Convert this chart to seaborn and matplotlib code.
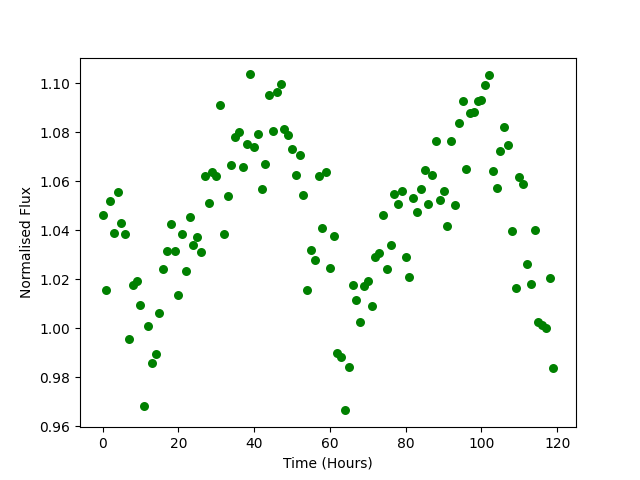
import numpy as np
import matplotlib
matplotlib.use("Agg")
import matplotlib.pyplot as plt
import seaborn as sns

# Time in hours, one reading per hour
hours = np.arange(120)

# Normalised flux
flux = [
    1.0464, 1.0155, 1.0521, 1.0390, 1.0558, 1.0429, 1.0384, 0.9958, 1.0178, 1.0192,
    1.0097, 0.9684, 1.0011, 0.9860, 0.9897, 1.0064, 1.0240, 1.0317, 1.0427, 1.0317,
    1.0134, 1.0386, 1.0233, 1.0456, 1.0339, 1.0374, 1.0313, 1.0623, 1.0513, 1.0636,
    1.0623, 1.0913, 1.0384, 1.0538, 1.0668, 1.0782, 1.0799, 1.0660, 1.0750, 1.1036,
    1.0738, 1.0792, 1.0567, 1.0672, 1.0951, 1.0807, 1.0965, 1.0995, 1.0815, 1.0787,
    1.0733, 1.0627, 1.0709, 1.0542, 1.0155, 1.0321, 1.0280, 1.0623, 1.0411, 1.0636,
    1.0248, 1.0378, 0.9901, 0.9884, 0.9665, 0.9844, 1.0178, 1.0117, 1.0027, 1.0173,
    1.0192, 1.0091, 1.0289, 1.0309, 1.0464, 1.0242, 1.0338, 1.0546, 1.0509, 1.0562,
    1.0289, 1.0210, 1.0533, 1.0475, 1.0570, 1.0644, 1.0509, 1.0627, 1.0766, 1.0525,
    1.0562, 1.0419, 1.0766, 1.0505, 1.0836, 1.0928, 1.0652, 1.0879, 1.0883, 1.0928,
    1.0931, 1.0991, 1.1033, 1.0640, 1.0574, 1.0725, 1.0823, 1.0746, 1.0399, 1.0166,
    1.0619, 1.0587, 1.0264, 1.0182, 1.0403, 1.0027, 1.0015, 1.0003, 1.0207, 0.9840,
]

fig, ax = plt.subplots(figsize=(6.4, 4.8), dpi=100)
sns.scatterplot(x=hours, y=flux, color="green", s=42, linewidth=0, ax=ax)
ax.set_xlabel("Time (Hours)")
ax.set_ylabel("Normalised Flux")
ax.set_yticks(np.arange(0.96, 1.101, 0.02))

fig.savefig("out.png", dpi=100)
